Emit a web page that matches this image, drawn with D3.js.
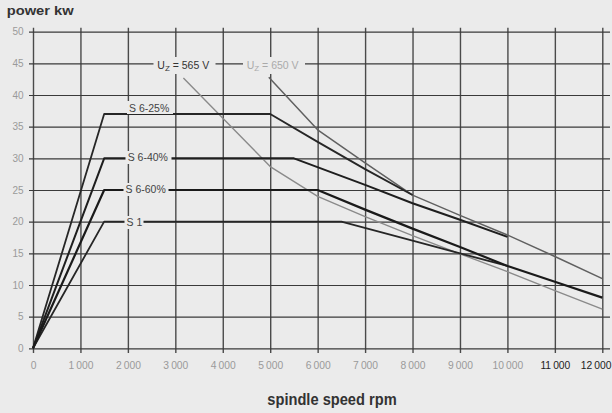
<!DOCTYPE html>
<html lang="en">
<head>
    <meta charset="UTF-8">
    <title>power kw</title>
    <script src="https://d3js.org/d3.v7.min.js"></script>
    <style>
        body {
            margin: 0;
            background: #ebebeb;
            font-family: "Liberation Sans", Arial, sans-serif;
        }
        svg {
            display: block;
            background: #ebebeb;
        }
    </style>
</head>
<body>
    <div id="chart"></div>
    <script>
        // axis ticks
        const rpmTicks = [0, 1000, 2000, 3000, 4000, 5000, 6000, 7000, 8000, 9000, 10000, 11000, 12000];
        const kwTicks = [0, 5, 10, 15, 20, 25, 30, 35, 40, 45, 50];

        // duty cycle curves
        const s625Rpm = [0, 1500, 5000, 6000, 7000, 8000];
        const s625Kw  = [0, 37, 37, 32.6, 28.3, 24.2];
        const s640Rpm = [0, 1500, 5500, 7000, 8000, 9000, 10000];
        const s640Kw  = [0, 30, 30, 25.8, 22.9, 20.3, 17.6];
        const s660Rpm = [0, 1500, 6000, 7000, 8000, 9000, 10000, 11000, 12000];
        const s660Kw  = [0, 25, 25, 21.9, 18.9, 16.0, 13.0, 10.5, 8.0];
        const s1Rpm   = [0, 1500, 6500, 8000, 9000, 10000];
        const s1Kw    = [0, 20, 20, 17.0, 15.0, 13.0];

        // voltage limit curves
        const u565Rpm = [3170, 5000, 6000, 7000, 8000, 9000, 10000, 11000, 12000];
        const u565Kw  = [42.7, 28.7, 24.0, 20.8, 17.8, 14.9, 12.1, 9.1, 6.2];
        const u650Rpm = [4970, 6000, 7000, 8000, 9000, 10000, 11000, 12000];
        const u650Kw  = [42.8, 34.5, 29.3, 24.2, 21.0, 17.9, 14.5, 11.0];

        const W = 612, H = 413;
        const x0 = 33, x1 = 602.3, y0 = 348.3, y1 = 31.7;

        const svg = d3.select("#chart").append("svg")
            .attr("width", W)
            .attr("height", H);

        const x = d3.scaleLinear().domain([0, 12000]).range([x0, x1]);
        const y = d3.scaleLinear().domain([0, 50]).range([y0, y1]);

        const fmtRpm = d => d < 1000 ? String(d) : Math.floor(d / 1000) + "\u2009" + "000";

        // vertical grid + x labels
        const gx = svg.append("g")
            .attr("transform", "translate(0,353)")
            .call(d3.axisBottom(x).tickValues(rpmTicks).tickFormat(fmtRpm)
                .tickSize(-(353 - 27.7)).tickPadding(8.5));
        gx.select(".domain").remove();
        gx.selectAll(".tick line").attr("stroke", "#4a4a4a").attr("stroke-width", 1.4);
        gx.selectAll(".tick text")
            .attr("font-size", 10.3)
            .attr("font-family", "Liberation Sans, Arial, sans-serif")
            .attr("fill", d => d >= 11000 ? "#222" : "#9a9a9a");
        // last label sits against the right edge
        gx.selectAll(".tick text")
            .filter(d => d === 12000)
            .attr("text-anchor", "end")
            .attr("x", W - 1 - x(12000));

        // horizontal grid + y labels
        const gy = svg.append("g")
            .attr("transform", "translate(29,0)")
            .call(d3.axisLeft(y).tickValues(kwTicks)
                .tickSize(-(610 - 29)).tickPadding(5.5));
        gy.select(".domain").remove();
        gy.selectAll(".tick line").attr("stroke", "#3a3a3a").attr("stroke-width", 1.2);
        gy.selectAll(".tick text")
            .attr("font-size", 10)
            .attr("font-family", "Liberation Sans, Arial, sans-serif")
            .attr("fill", "#9a9a9a");

        const line = d3.line().x(d => x(d[0])).y(d => y(d[1]));
        const curves = [
            {rpm: u565Rpm, kw: u565Kw, color: "#8a8a8a", w: 1.4},
            {rpm: u650Rpm, kw: u650Kw, color: "#606060", w: 1.5},
            {rpm: s625Rpm, kw: s625Kw, color: "#262626", w: 1.8},
            {rpm: s640Rpm, kw: s640Kw, color: "#1e1e1e", w: 2},
            {rpm: s1Rpm,   kw: s1Kw,   color: "#262626", w: 1.8},
            {rpm: s660Rpm, kw: s660Kw, color: "#1a1a1a", w: 2.2}
        ];
        svg.selectAll(".curve")
            .data(curves)
            .enter().append("path")
            .attr("class", "curve")
            .attr("fill", "none")
            .attr("stroke", d => d.color)
            .attr("stroke-width", d => d.w)
            .attr("stroke-linejoin", "round")
            .attr("d", d => line(d.rpm.map((r, i) => [r, d.kw[i]])));

        // curve labels with a background patch
        const labels = [
            {t: "S 6-25%", x: 129, y: 111.5, box: [127, 101, 46, 13]},
            {t: "S 6-40%", x: 127.7, y: 160.8, box: [125.5, 151, 46, 13]},
            {t: "S 6-60%", x: 125.5, y: 192.8, box: [123.5, 183, 45, 13]},
            {t: "S 1", x: 126.5, y: 225.8, box: [124.5, 216, 19, 13]}
        ];
        labels.forEach(l => {
            svg.append("rect")
                .attr("x", l.box[0]).attr("y", l.box[1])
                .attr("width", l.box[2]).attr("height", l.box[3])
                .attr("fill", "#ebebeb");
            svg.append("text")
                .attr("x", l.x).attr("y", l.y)
                .attr("font-size", 10.5)
                .attr("fill", "#444")
                .text(l.t);
        });

        const uLabels = [
            {v: "565 V", x: 157.3, box: [153.5, 57, 62, 17], color: "#333"},
            {v: "650 V", x: 246.7, box: [243, 57, 62, 17], color: "#aaa"}
        ];
        uLabels.forEach(l => {
            svg.append("rect")
                .attr("x", l.box[0]).attr("y", l.box[1])
                .attr("width", l.box[2]).attr("height", l.box[3])
                .attr("fill", "#ebebeb");
            const t = svg.append("text")
                .attr("x", l.x).attr("y", 69.3)
                .attr("font-size", 10.5)
                .attr("fill", l.color);
            t.append("tspan").text("U");
            t.append("tspan").attr("font-size", 8).attr("dy", 2).text("Z");
            t.append("tspan").attr("dy", -2).text(" = " + l.v);
        });

        // titles
        svg.append("text")
            .attr("x", 6.7).attr("y", 15.3)
            .attr("font-size", 13.5)
            .attr("font-weight", "bold")
            .attr("fill", "#333")
            .attr("textLength", 67)
            .attr("lengthAdjust", "spacingAndGlyphs")
            .text("power kw");

        svg.append("text")
            .attr("x", 267.3).attr("y", 405)
            .attr("font-size", 16)
            .attr("font-weight", "bold")
            .attr("fill", "#333")
            .attr("textLength", 129.4)
            .attr("lengthAdjust", "spacingAndGlyphs")
            .text("spindle speed rpm");
    </script>
</body>
</html>
